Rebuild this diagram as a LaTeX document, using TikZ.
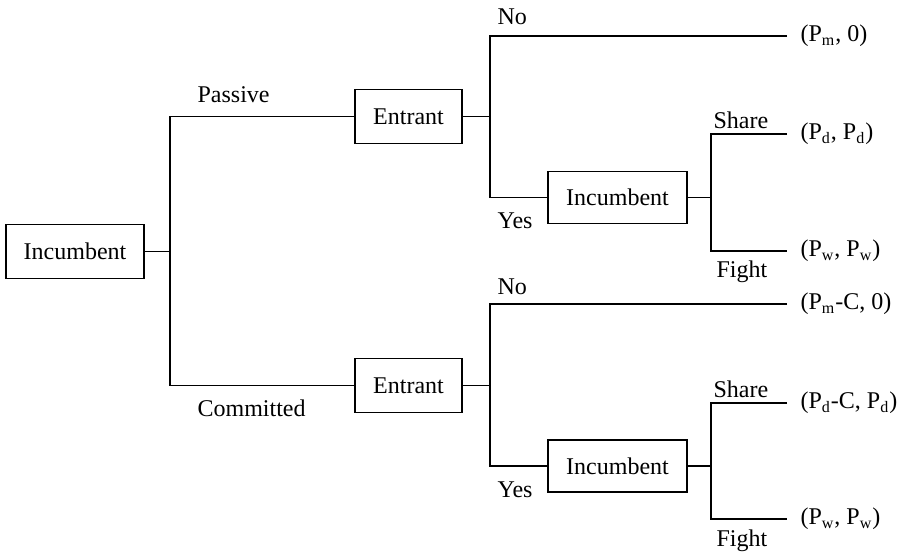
\documentclass[tikz,border=0pt]{standalone}
\usepackage{fontspec}
\setmainfont{Liberation Serif}
\usetikzlibrary{positioning}

\begin{document}
\begin{tikzpicture}[x=0.5pt,y=-0.5pt,line width=0.6pt,font=\fontsize{12}{14}\selectfont,
  box/.style={draw,minimum height=27pt,inner sep=2pt},
  pay/.style={anchor=west,inner xsep=6.5pt,inner ysep=0pt},
  lbl/.style={anchor=base west,inner sep=0pt}]
\useasboundingbox (0,0) rectangle (902,556);
% decision nodes
\node[box,minimum width=69pt](inc0) at (75,251.5){Incumbent};
\node[box,minimum width=53.5pt](entP) at (408.5,116.5){Entrant};
\node[box,minimum width=53.5pt](entC) at (408.5,385.5){Entrant};
\node[box,minimum width=69.5pt,minimum height=26pt](incP) at (617.5,197.5){Incumbent};
\node[box,minimum width=69.5pt,minimum height=26pt](incC) at (617.5,466){Incumbent};
% payoffs
\node[pay](pm1) at (787,36){(P\textsubscript{m}, 0)};
\node[pay](pd1) at (787,134){(P\textsubscript{d}, P\textsubscript{d})};
\node[pay](pw1) at (787,251){(P\textsubscript{w}, P\textsubscript{w})};
\node[pay](pm2) at (787,304){(P\textsubscript{m}-C, 0)};
\node[pay](pd2) at (787,403){(P\textsubscript{d}-C, P\textsubscript{d})};
\node[pay](pw2) at (787,519){(P\textsubscript{w}, P\textsubscript{w})};
% split points
\coordinate (s0) at (170,251.5);
\coordinate (s1) at (490,116.5);
\coordinate (s2) at (490,385.5);
\coordinate (s3) at (711,197.5);
\coordinate (s4) at (711,466);
% branches
\draw (inc0) -- (s0);
\draw (entP) -| (s0) |- (entC);
\draw (entP) -- (s1);
\draw (pm1) -| (s1) |- (incP);
\draw (incP) -- (s3);
\draw (pd1) -| (s3) |- (pw1);
\draw (entC) -- (s2);
\draw (pm2) -| (s2) |- (incC);
\draw (incC) -- (s4);
\draw (pd2) -| (s4) |- (pw2);
% branch labels
\node[lbl](pas) at (197,103){Passive};
\node[lbl](com) at (197,417){Committed};
\node[lbl](no1) at (497,25){No};
\node[lbl](yes1) at (497,229){Yes};
\node[lbl](no2) at (497,295){No};
\node[lbl](yes2) at (497,498){Yes};
\node[lbl](sh1) at (713,128.5){Share};
\node[lbl](fi1) at (716,278){Fight};
\node[lbl](sh2) at (713,397.5){Share};
\node[lbl](fi2) at (716,547){Fight};
\end{tikzpicture}
\end{document}
